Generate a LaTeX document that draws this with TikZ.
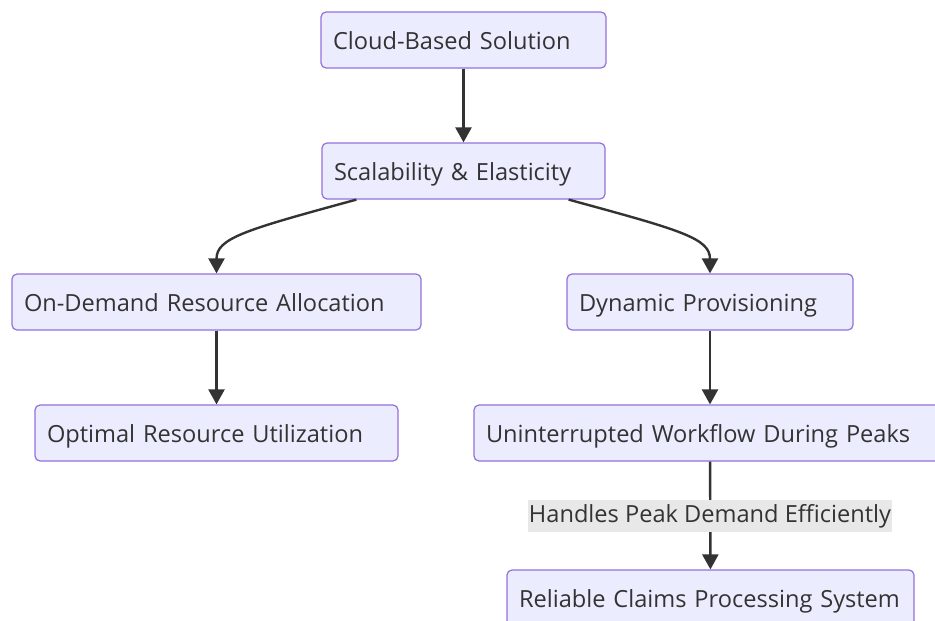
\documentclass[tikz,border=0pt]{standalone}
\usepackage{fontspec}
\setmainfont{Open Sans}
\usetikzlibrary{arrows.meta}

\definecolor{boxfill}{HTML}{ECECFF}
\definecolor{boxline}{HTML}{9370DB}
\definecolor{ink}{HTML}{333333}
\definecolor{labelfill}{HTML}{E8E8E8}

\tikzset{
  flowbox/.style={draw=boxline, fill=boxfill, line width=1.2pt, rounded corners=5pt,
    text width=#1, align=left, inner xsep=12pt, inner ysep=0pt, minimum height=56pt,
    text height=20pt, text depth=2pt,
    text=ink, font=\fontsize{23.6}{28}\selectfont},
  flowarrow/.style={draw=ink, line width=2.4pt, -{Triangle[width=16pt,length=15pt]}},
  edgelabel/.style={fill=labelfill, text=ink, inner xsep=1pt, inner ysep=4pt,
    font=\fontsize{23.6}{28}\selectfont}
}

\begin{document}
\begin{tikzpicture}[x=1pt, y=-1pt]
    \useasboundingbox (0,0) rectangle (935,621);
    \node [flowbox=261pt] (cloud) at (463.5,40) {Cloud-Based Solution};
    \node [flowbox=259pt] (scal) at (463.5,171) {Scalability \& Elasticity};
    \node [flowbox=385pt] (ondemand) at (216.5,302) {On-Demand Resource Allocation};
    \node [flowbox=262pt] (dynamic) at (710,302) {Dynamic Provisioning};
    \node [flowbox=339pt] (optimal) at (216.5,433) {Optimal Resource Utilization};
    \node [flowbox=448pt] (workflow) at (710,433) {Uninterrupted Workflow During Peaks};
    \node [flowbox=383pt] (reliable) at (710.5,598) {Reliable Claims Processing System};

    \draw [flowarrow] (cloud) -- (scal);
    \draw [flowarrow] ([xshift=35pt]scal.south west)
        .. controls (245,230) and (216.5,238) .. (ondemand.north);
    \draw [flowarrow] ([xshift=-37pt]scal.south east)
        .. controls (680,230) and (710,238) .. (dynamic.north);
    \draw [flowarrow] (ondemand) -- (optimal);
    \draw [flowarrow] (dynamic) -- (workflow);
    \draw [flowarrow] (workflow) -- (reliable);
    \node [edgelabel] (peaklabel) at (710,516) {Handles Peak Demand Efficiently};
\end{tikzpicture}
\end{document}
